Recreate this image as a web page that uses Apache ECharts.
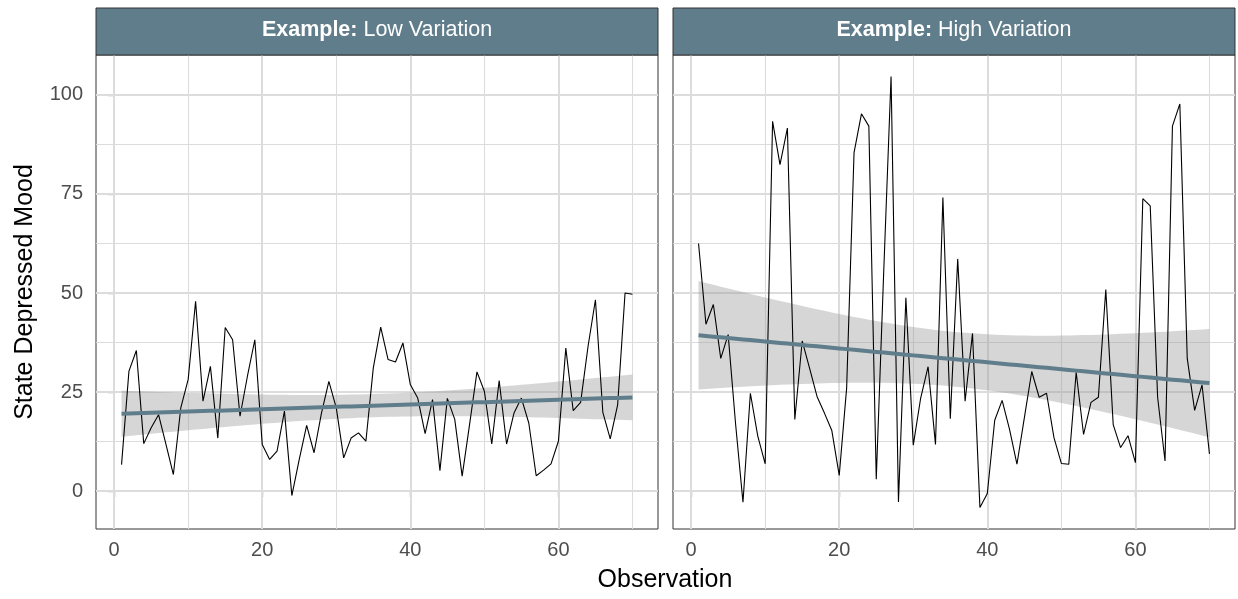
<!DOCTYPE html>
<html><head><meta charset="utf-8">
<script src="https://cdn.jsdelivr.net/npm/echarts@6/dist/echarts.min.js"></script>
<style>html,body{margin:0;padding:0;background:#fff}#c{width:1238px;height:599px}</style>
</head><body><div id="c"></div>
<script>
const observation = [1,2,3,4,5,6,7,8,9,10,11,12,13,14,15,16,17,18,19,20,21,22,23,24,25,26,27,28,29,30,31,32,33,34,35,36,37,38,39,40,41,42,43,44,45,46,47,48,49,50,51,52,53,54,55,56,57,58,59,60,61,62,63,64,65,66,67,68,69,70];
const lowVariation = [6.7,30.3,35.5,12.0,16.0,19.3,11.8,4.2,21.0,28.2,47.9,22.7,31.5,13.4,41.3,38.2,18.9,29.0,38.2,11.8,8.0,10.1,20.2,-1.1,8.0,16.6,9.7,19.7,27.7,21.0,8.4,13.4,14.7,12.6,31.1,41.4,33.2,32.6,37.4,26.9,23.5,14.5,23.1,5.2,23.4,18.1,3.8,16.8,30.1,25.2,11.9,27.9,11.9,19.7,23.5,17.2,3.9,5.3,6.9,12.6,36.1,20.3,22.4,36.5,48.3,19.9,13.2,21.8,50.0,49.7];
const highVariation = [62.5,42.1,47.1,33.5,39.5,17.0,-2.8,24.7,13.9,6.9,93.3,82.4,91.6,18.1,37.9,31.0,23.9,19.7,15.3,4.0,26.0,85.4,95.2,92.1,3.0,55.0,104.6,-2.7,48.8,11.6,23.5,31.4,11.8,74.1,18.3,58.6,22.7,39.8,-4.1,-0.6,17.9,22.9,15.6,6.8,18.5,30.2,23.7,24.7,13.5,7.0,6.8,30.0,14.3,22.4,23.7,50.9,16.8,11.0,14.0,7.2,73.8,72.0,23.7,7.6,92.1,97.7,33.5,20.4,26.8,9.4];
const panelLabels = ['Low Variation', 'High Variation'];
const xTicks = [0, 20, 40, 60];
const xMinorTicks = [10, 30, 50, 70];
const yTicks = [0, 25, 50, 75, 100];
const yMinorTicks = [12.5, 37.5, 62.5, 87.5];

const FONT = 'Liberation Sans, Arial, Helvetica, sans-serif';
const ACCENT = '#607D8B';

// linear model fit with 95% confidence band (as geom_smooth(method = "lm"))
function lmBand(x, y) {
  const n = x.length;
  let mx = 0, my = 0;
  for (let i = 0; i < n; i++) { mx += x[i]; my += y[i]; }
  mx /= n; my /= n;
  let sxx = 0, sxy = 0;
  for (let i = 0; i < n; i++) { sxx += (x[i]-mx)*(x[i]-mx); sxy += (x[i]-mx)*(y[i]-my); }
  const b = sxy / sxx, a = my - b * mx;
  let sse = 0;
  for (let i = 0; i < n; i++) { const r = y[i] - (a + b * x[i]); sse += r * r; }
  const s = Math.sqrt(sse / (n - 2));
  const t = 1.9955;
  const fit = [], band = [];
  for (let i = 0; i < n; i++) {
    const f = a + b * x[i];
    const se = s * Math.sqrt(1 / n + (x[i]-mx)*(x[i]-mx) / sxx);
    fit.push([x[i], f]);
    band.push([x[i], f - t * se, f + t * se]);
  }
  return { fit, band };
}

const panels = [lowVariation, highVariation];
const gridLeft = [96, 673];
const gridWidth = 562;
const gridTop = 55, gridHeight = 474;

const grids = [], xAxes = [], yAxes = [], series = [], graphics = [];

panels.forEach((vals, k) => {
  grids.push({ left: gridLeft[k], top: gridTop, width: gridWidth, height: gridHeight,
    show: true, borderColor: '#333', borderWidth: 1, backgroundColor: '#fff', containLabel: false });
  xAxes.push({ gridIndex: k, type: 'value', min: -2.45, max: 73.45,
    splitLine: { show: false },
    axisLine: { show: true, lineStyle: { color: '#333', width: 1 } },
    axisTick: { show: true, customValues: xTicks, length: 6, lineStyle: { color: '#333', width: 1.2 } },
    axisLabel: { show: true, customValues: xTicks, color: '#4D4D4D', fontSize: 20, fontFamily: FONT, margin: 11 }
  });
  yAxes.push({ gridIndex: k, type: 'value', min: -9.54, max: 110.04,
    splitLine: { show: false },
    axisLine: { show: k === 0, lineStyle: { color: '#333', width: 1 } },
    axisTick: { show: k === 0, customValues: yTicks, length: 6, lineStyle: { color: '#333', width: 1.2 } },
    axisLabel: { show: k === 0, customValues: yTicks, color: '#4D4D4D', fontSize: 20, fontFamily: FONT, margin: 13 }
  });

  const gl = [];
  xTicks.forEach(v => gl.push({ xAxis: v, lineStyle: { width: 2 } }));
  xMinorTicks.forEach(v => gl.push({ xAxis: v, lineStyle: { width: 1.1 } }));
  yTicks.forEach(v => gl.push({ yAxis: v, lineStyle: { width: 2 } }));
  yMinorTicks.forEach(v => gl.push({ yAxis: v, lineStyle: { width: 1.1 } }));

  const fitRes = lmBand(observation, vals);
  const bandData = fitRes.band;
  const dataPts = observation.map((x, i) => [x, vals[i]]);

  series.push({ type: 'line', xAxisIndex: k, yAxisIndex: k, data: [], z: 1, silent: true,
    markLine: { z: 1, silent: true, symbol: ['none', 'none'], label: { show: false }, animation: false,
      lineStyle: { color: '#DCDCDC', type: 'solid' }, data: gl } });
  series.push({ type: 'custom', xAxisIndex: k, yAxisIndex: k, data: bandData, z: 2, silent: true,
    encode: { x: 0, y: [1, 2] },
    renderItem: function (params, api) {
      if (params.dataIndex !== 0) return null;
      const pts = [];
      for (let i = 0; i < bandData.length; i++) pts.push(api.coord([bandData[i][0], bandData[i][2]]));
      for (let i = bandData.length - 1; i >= 0; i--) pts.push(api.coord([bandData[i][0], bandData[i][1]]));
      return { type: 'polygon', shape: { points: pts }, style: { fill: 'rgba(153,153,153,0.4)' } };
    } });
  series.push({ type: 'line', xAxisIndex: k, yAxisIndex: k, data: dataPts,
    symbol: 'none', lineStyle: { color: '#000', width: 1.1 }, z: 3, silent: true });
  series.push({ type: 'line', xAxisIndex: k, yAxisIndex: k, data: fitRes.fit,
    symbol: 'none', lineStyle: { color: ACCENT, width: 4 }, z: 4, silent: true });

  graphics.push({ type: 'rect', shape: { x: gridLeft[k], y: 8, width: gridWidth, height: gridTop - 8 },
    style: { fill: ACCENT, stroke: '#333', lineWidth: 1 }, z: 10 });
  graphics.push({ type: 'text', x: gridLeft[k] + gridWidth / 2, y: 30, z: 11,
    style: { text: '{b|Example:} ' + panelLabels[k], fill: '#fff', fontSize: 21.5, fontFamily: FONT,
      align: 'center', verticalAlign: 'middle',
      rich: { b: { fontWeight: 'bold', fontSize: 21.5, fontFamily: FONT, fill: '#fff' } } } });
});

graphics.push({ type: 'text', x: 665, y: 580, style: { text: 'Observation', fill: '#000', fontSize: 25,
  fontFamily: FONT, align: 'center', verticalAlign: 'middle' } });
graphics.push({ type: 'text', x: 25, y: 292, rotation: Math.PI / 2, style: { text: 'State Depressed Mood',
  fill: '#000', fontSize: 25, fontFamily: FONT, align: 'center', verticalAlign: 'middle' } });

const chart = echarts.init(document.getElementById('c'), null, { renderer: 'canvas' });
chart.setOption({
  animation: false,
  backgroundColor: '#fff',
  grid: grids, xAxis: xAxes, yAxis: yAxes, series: series, graphic: graphics
});
</script></body></html>
